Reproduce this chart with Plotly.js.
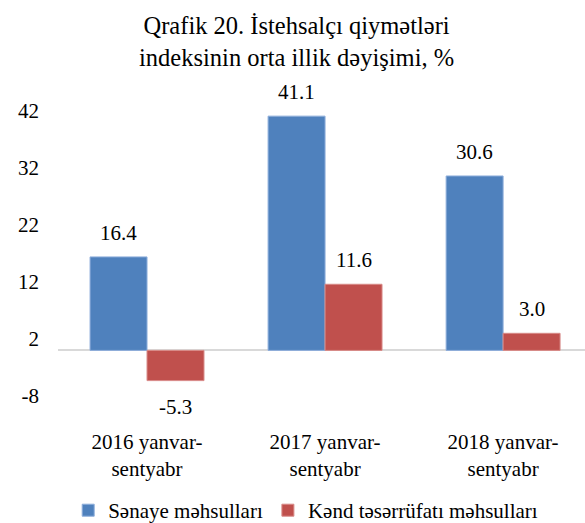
<!DOCTYPE html>
<html>
<head>
<meta charset="utf-8">
<script src="https://cdn.plot.ly/plotly-3.0.1.min.js"></script>
<style>html,body{margin:0;padding:0;background:#fff;}#chart{width:585px;height:523px;}</style>
</head>
<body>
<div id="chart"></div>
<script>
const categories = ['2016 yanvar-<br>sentyabr', '2017 yanvar-<br>sentyabr', '2018 yanvar-<br>sentyabr'];
const seriesNames = ['Sənaye məhsulları', 'Kənd təsərrüfatı məhsulları'];
const sanaye = [16.4, 41.1, 30.6];
const kend = [-5.3, 11.6, 3.0];
const yTicks = [-8, 2, 12, 22, 32, 42];

const FONT = 'Liberation Serif';
const colors = ['#4F81BD', '#C0504D'];

const traces = [
  {type: 'bar', name: seriesNames[0], x: categories, y: sanaye,
   marker: {color: colors[0], line: {color: '#8eaedb', width: 1}}, hoverinfo: 'none'},
  {type: 'bar', name: seriesNames[1], x: categories, y: kend,
   marker: {color: colors[1], line: {color: '#d88a88', width: 1}}, hoverinfo: 'none'}
];

const annotations = [];
[sanaye, kend].forEach((vals, si) => {
  vals.forEach((v, i) => {
    annotations.push({
      x: categories[i], y: v, xref: 'x', yref: 'y',
      text: v.toFixed(1), showarrow: false,
      xshift: si === 0 ? -28.5 : 28.5,
      yanchor: v >= 0 ? 'bottom' : 'top',
      yshift: v >= 0 ? 10 : -12,
      font: {family: FONT, size: 21, color: '#000'}
    });
  });
});

const layout = {
  width: 585, height: 523,
  margin: {l: 58, r: 0, t: 111, b: 127},
  paper_bgcolor: '#fff', plot_bgcolor: '#fff',
  font: {family: FONT, size: 21, color: '#000'},
  title: {
    text: 'Qrafik 20. İstehsalçı qiymətləri<br>indeksinin orta illik dəyişimi, %',
    font: {family: FONT, size: 24.5, color: '#000'},
    x: 0.507, xanchor: 'center', xref: 'container',
    y: 0.935, yanchor: 'top', yref: 'container'
  },
  barmode: 'group', bargap: 0.36, bargroupgap: 0,
  xaxis: {
    type: 'category', range: [-0.5, 2.46],
    showline: false, ticks: '', showgrid: false, zeroline: false,
    tickfont: {family: FONT, size: 21, color: '#000'},
    ticklabelstandoff: 31
  },
  yaxis: {
    range: [-8, 42], tickvals: yTicks, ticktext: yTicks.map(String),
    showgrid: false, showline: false, ticks: '',
    zeroline: true, zerolinecolor: '#d9d9d9', zerolinewidth: 2,
    tickfont: {family: FONT, size: 21, color: '#000'},
    ticklabelstandoff: 18
  },
  showlegend: true,
  legend: {
    orientation: 'h', x: 0.47, xanchor: 'center', xref: 'paper',
    y: 0.063, yanchor: 'top', yref: 'container',
    font: {family: FONT, size: 21, color: '#000'}, traceorder: 'normal'
  },
  annotations: annotations
};

Plotly.newPlot('chart', traces, layout, {displayModeBar: false, staticPlot: true});
</script>
</body>
</html>
